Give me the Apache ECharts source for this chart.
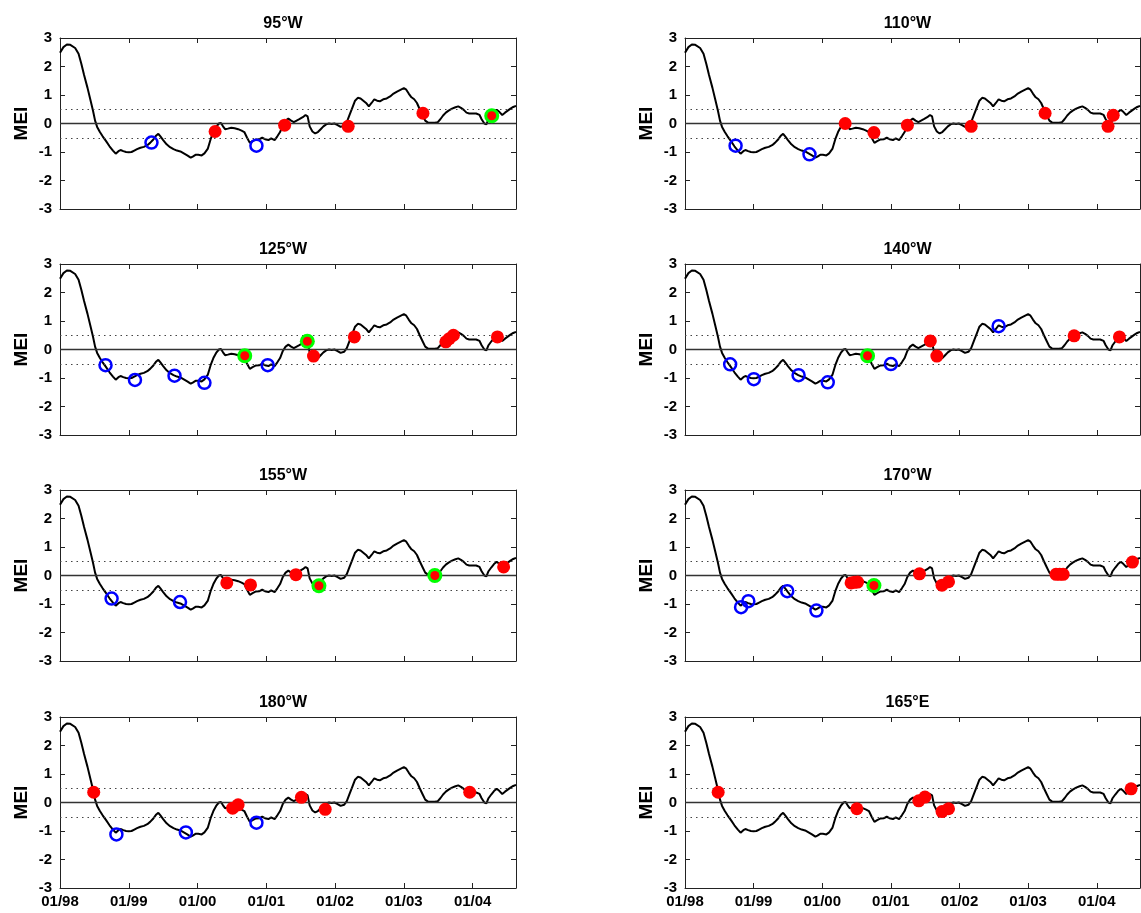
<!DOCTYPE html>
<html>
<head>
<meta charset="utf-8">
<script src="https://cdn.jsdelivr.net/npm/echarts@6/dist/echarts.min.js"></script>
<style>
  html, body { margin: 0; padding: 0; background: #fff; }
  #chart { width: 1141px; height: 913px; }
</style>
</head>
<body>
<div id="chart"></div>
<script>
// MEI index, years after 01/1998 and value
const lineT = [0.00, 0.05, 0.10, 0.15, 0.22, 0.27, 0.31, 0.35, 0.40, 0.44, 0.48, 0.51, 0.54, 0.58, 0.62, 0.67,
  0.72, 0.77, 0.81, 0.85, 0.88, 0.92, 0.96, 1.00, 1.04, 1.08, 1.12, 1.17, 1.22, 1.27, 1.31, 1.35, 1.40, 1.43,
  1.46, 1.50, 1.55, 1.60, 1.65, 1.70, 1.75, 1.80, 1.85, 1.90, 1.93, 1.97, 2.01, 2.06, 2.10, 2.15, 2.19, 2.23,
  2.27, 2.31, 2.34, 2.37, 2.40, 2.44, 2.49, 2.54, 2.59, 2.64, 2.68, 2.72, 2.76, 2.80, 2.85, 2.90, 2.94, 2.98,
  3.03, 3.07, 3.12, 3.16, 3.20, 3.24, 3.28, 3.32, 3.36, 3.40, 3.44, 3.48, 3.53, 3.57, 3.60, 3.63, 3.67, 3.71,
  3.75, 3.79, 3.83, 3.87, 3.91, 3.95, 3.99, 4.03, 4.08, 4.13, 4.17, 4.21, 4.25, 4.29, 4.33, 4.37, 4.41, 4.45,
  4.49, 4.53, 4.57, 4.61, 4.65, 4.70, 4.75, 4.80, 4.85, 4.90, 4.95, 5.00, 5.03, 5.07, 5.11, 5.15, 5.19, 5.23,
  5.27, 5.31, 5.35, 5.40, 5.45, 5.49, 5.53, 5.57, 5.61, 5.65, 5.70, 5.75, 5.79, 5.83, 5.87, 5.91, 5.95, 6.00,
  6.05, 6.10, 6.13, 6.17, 6.20, 6.23, 6.27, 6.31, 6.35, 6.39, 6.43, 6.47, 6.51, 6.55, 6.59, 6.63];
const lineV = [2.48, 2.68, 2.77, 2.76, 2.65, 2.45, 2.10, 1.70, 1.25, 0.85, 0.45, 0.10, -0.12, -0.30, -0.45, -0.62,
  -0.80, -0.95, -1.06, -0.97, -0.93, -0.97, -1.00, -1.01, -1.00, -0.95, -0.90, -0.85, -0.82, -0.76, -0.68, -0.58, -0.42, -0.36,
  -0.45, -0.58, -0.73, -0.83, -0.90, -0.95, -0.98, -1.05, -1.12, -1.20, -1.16, -1.10, -1.10, -1.12, -1.05, -0.88, -0.55, -0.30,
  -0.12, 0.00, 0.02, -0.10, -0.20, -0.18, -0.15, -0.17, -0.20, -0.25, -0.30, -0.50, -0.68, -0.62, -0.56, -0.55, -0.50, -0.55,
  -0.58, -0.52, -0.58, -0.45, -0.30, -0.05, 0.10, 0.17, 0.10, 0.05, 0.10, 0.15, 0.22, 0.30, 0.25, -0.10, -0.28, -0.35,
  -0.30, -0.20, -0.10, -0.03, 0.00, -0.02, 0.00, -0.05, -0.12, -0.08, 0.05, 0.30, 0.55, 0.80, 0.90, 0.88, 0.80, 0.72,
  0.60, 0.72, 0.85, 0.80, 0.78, 0.85, 0.88, 0.95, 1.05, 1.12, 1.18, 1.24, 1.20, 1.05, 0.92, 0.85, 0.72, 0.50,
  0.30, 0.10, 0.03, 0.03, 0.03, 0.04, 0.15, 0.28, 0.38, 0.45, 0.52, 0.57, 0.60, 0.55, 0.48, 0.38, 0.35, 0.35,
  0.35, 0.30, 0.15, 0.00, -0.03, 0.15, 0.28, 0.40, 0.48, 0.40, 0.30, 0.38, 0.45, 0.52, 0.58, 0.62];

const panelTitles = ['95°W', '110°W', '125°W', '140°W', '155°W', '170°W', '180°W', '165°E'];
const xTickLabels = ['01/98', '01/99', '01/00', '01/01', '01/02', '01/03', '01/04'];
const yTicks = [-3, -2, -1, 0, 1, 2, 3];
const refLevels = [-0.5, 0.5];

// markers per panel: [years after 01/1998, MEI]
const openCircles = [
  [[1.33, -0.67], [2.856, -0.78]],
  [[0.737, -0.78], [1.814, -1.08]],
  [[0.662, -0.55], [1.09, -1.07], [1.665, -0.92], [2.10, -1.17], [3.02, -0.55]],
  [[0.658, -0.52], [1.003, -1.04], [1.655, -0.90], [2.08, -1.15], [3.00, -0.51], [4.57, 0.82]],
  [[0.75, -0.81], [1.745, -0.93]],
  [[0.817, -1.11], [0.923, -0.90], [1.49, -0.55], [1.915, -1.23]],
  [[0.82, -1.12], [1.83, -1.05], [2.856, -0.71]],
  []
];
const redDots = [
  [[2.255, -0.28], [3.266, -0.06], [4.19, -0.10], [5.277, 0.36]],
  [[2.334, 0.00], [2.753, -0.32], [3.241, -0.06], [4.17, -0.10], [5.247, 0.36], [6.164, -0.10], [6.24, 0.29]],
  [[3.686, -0.23], [4.28, 0.44], [5.61, 0.27], [5.66, 0.38], [5.72, 0.50], [6.36, 0.44]],
  [[3.575, 0.30], [3.67, -0.23], [5.67, 0.48], [6.33, 0.44]],
  [[2.425, -0.26], [2.77, -0.33], [3.43, 0.03], [6.45, 0.30]],
  [[2.42, -0.26], [2.47, -0.24], [2.515, -0.23], [3.416, 0.06], [3.745, -0.34], [3.84, -0.22],
   [5.406, 0.04], [5.46, 0.04], [5.51, 0.04], [6.52, 0.47]],
  [[0.49, 0.36], [2.51, -0.20], [2.59, -0.08], [3.51, 0.18], [3.856, -0.24], [5.957, 0.36]],
  [[0.483, 0.36], [2.504, -0.22], [3.406, 0.06], [3.496, 0.19], [3.745, -0.32], [3.84, -0.22], [6.50, 0.48]]
];
const greenDots = [
  [[6.277, 0.27]],
  [],
  [[2.686, -0.22], [3.596, 0.29]],
  [[2.66, -0.22]],
  [[3.765, -0.36], [5.45, 0.00]],
  [[2.753, -0.35]],
  [],
  []
];

const startYear = 1998;
const endYear = 2004.63;
const font = 'Liberation Sans, Arial, Helvetica, sans-serif';
const colLeft = [60, 685];
const colWidth = [456, 455];
const rowTop = [38, 264, 490, 717];
const plotH = 171;
const boxColor = '#222';

const toXY = (arr) => arr.map((p) => [startYear + p[0], p[1]]);
const lineData = lineT.map((t, i) => [startYear + t, lineV[i]]);

const xLabel = (v) => {
  const i = Math.round(v - startYear);
  return Math.abs(v - startYear - i) < 1e-6 && i < xTickLabels.length ? xTickLabels[i] : '';
};

const grid = [], xAxis = [], yAxis = [], series = [], title = [];
panelTitles.forEach((name, k) => {
  const col = k % 2, row = Math.floor(k / 2);
  grid.push({ left: colLeft[col], top: rowTop[row], width: colWidth[col], height: plotH });
  // title box is laid out from its left edge, so pull it back by about half its width
  title.push({
    text: name, left: colLeft[col] + colWidth[col] / 2 - 10, top: rowTop[row] - 27, textAlign: 'center',
    textStyle: { fontFamily: font, fontSize: 16, fontWeight: 'bold', color: '#000' }
  });
  const axBase = {
    type: 'value', gridIndex: k, min: startYear, max: endYear, interval: 1,
    axisLine: { show: true, onZero: false, lineStyle: { color: boxColor, width: 1 } },
    axisTick: { show: true, inside: true, length: 5, lineStyle: { color: boxColor } },
    splitLine: { show: false }
  };
  xAxis.push(Object.assign({}, axBase, {
    position: 'bottom',
    axisLabel: {
      show: row === 3, formatter: xLabel, margin: 6, showMaxLabel: false,
      fontFamily: font, fontSize: 15, fontWeight: 'bold', color: '#000'
    }
  }));
  xAxis.push(Object.assign({}, axBase, { position: 'top', axisLabel: { show: false } }));
  const yBase = {
    type: 'value', gridIndex: k, min: yTicks[0], max: yTicks[yTicks.length - 1], interval: 1,
    axisLine: { show: true, onZero: false, lineStyle: { color: boxColor, width: 1 } },
    axisTick: { show: true, inside: true, length: 5, lineStyle: { color: boxColor } },
    splitLine: { show: false }
  };
  yAxis.push(Object.assign({}, yBase, {
    position: 'left', name: 'MEI', nameLocation: 'middle', nameGap: 29, nameRotate: 90,
    nameTextStyle: { fontFamily: font, fontSize: 19, fontWeight: 'bold', color: '#000' },
    axisLabel: { margin: 8, fontFamily: font, fontSize: 15, fontWeight: 'bold', color: '#000' }
  }));
  yAxis.push(Object.assign({}, yBase, { position: 'right', axisLabel: { show: false } }));

  const xi = k * 2, yi = k * 2;
  series.push({
    type: 'line', xAxisIndex: xi, yAxisIndex: yi, data: lineData, showSymbol: false,
    lineStyle: { color: '#000', width: 2 }, z: 3, silent: true,
    markLine: {
      symbol: 'none', silent: true, label: { show: false },
      data: [
        { yAxis: 0, lineStyle: { color: '#333', width: 1.3, type: 'solid' } },
        ...refLevels.map((v) => ({ yAxis: v, lineStyle: { color: '#444', width: 1.2, type: [1.5, 4] } }))
      ]
    }
  });
  series.push({
    type: 'scatter', xAxisIndex: xi, yAxisIndex: yi, data: toXY(openCircles[k]), symbolSize: 12, z: 5,
    itemStyle: { color: 'rgba(0,0,0,0)', borderColor: '#0000ff', borderWidth: 2.5, opacity: 1 }
  });
  series.push({
    type: 'scatter', xAxisIndex: xi, yAxisIndex: yi, data: toXY(redDots[k]), symbolSize: 13, z: 5,
    itemStyle: { color: '#ff0000', opacity: 1 }
  });
  series.push({
    type: 'scatter', xAxisIndex: xi, yAxisIndex: yi, data: toXY(greenDots[k]), symbolSize: 15, z: 6,
    itemStyle: { color: '#00ff00', opacity: 1 }
  });
  series.push({
    type: 'scatter', xAxisIndex: xi, yAxisIndex: yi, data: toXY(greenDots[k]), symbolSize: 9, z: 7,
    itemStyle: { color: '#ff0000', opacity: 1 }
  });
});

const chart = echarts.init(document.getElementById('chart'));
chart.setOption({
  animation: false,
  backgroundColor: '#fff',
  title, grid, xAxis, yAxis, series
});
</script>
</body>
</html>
